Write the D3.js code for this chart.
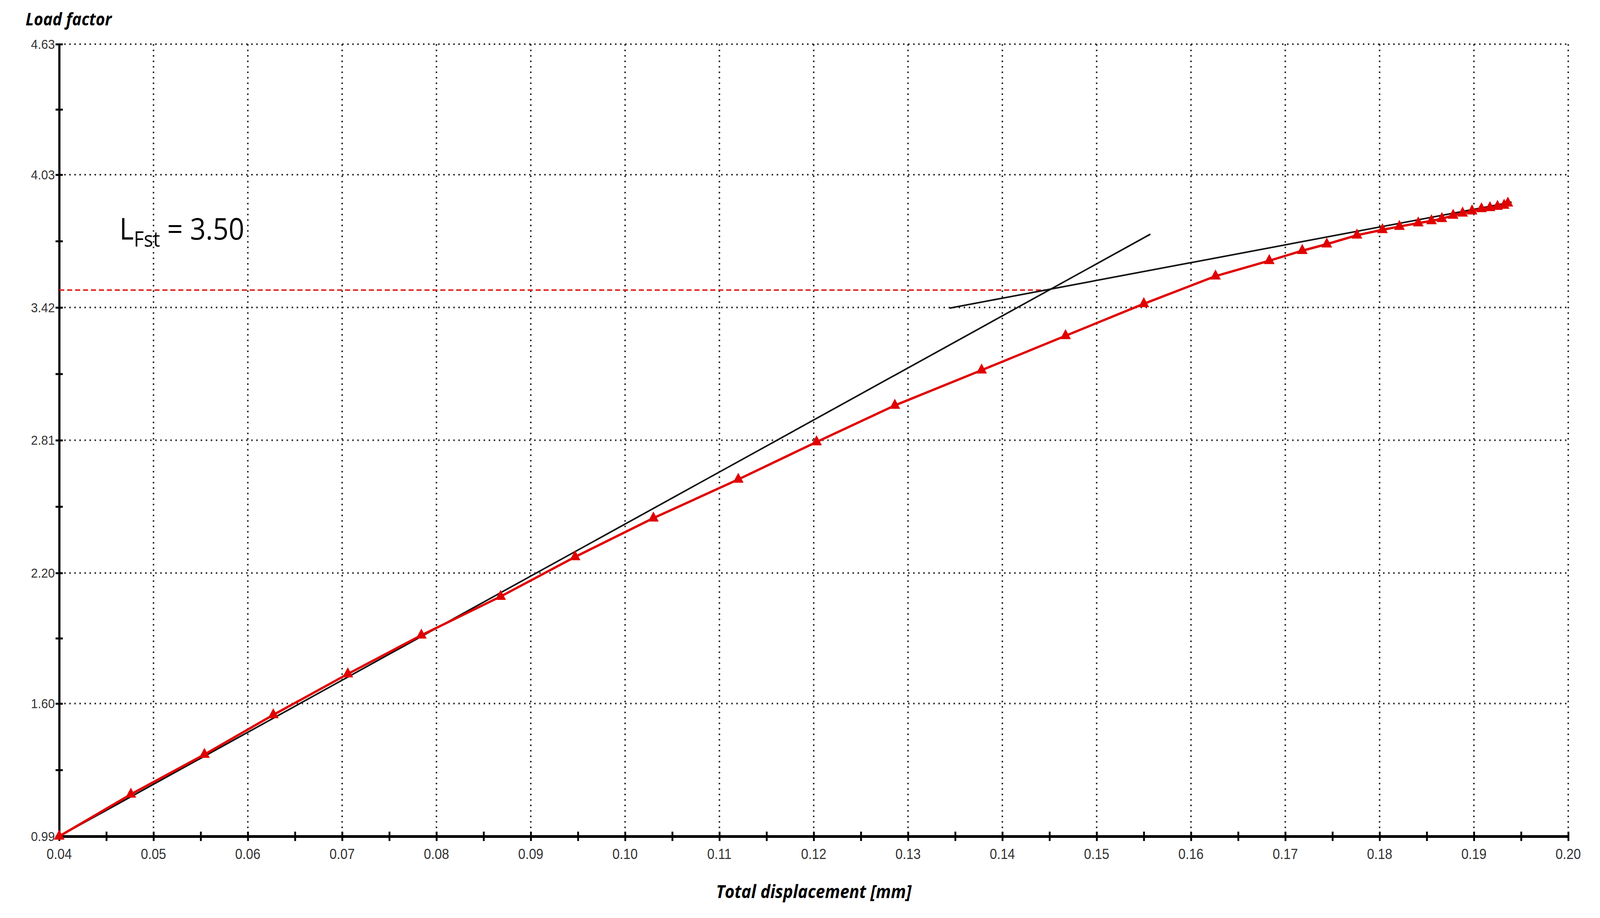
<!DOCTYPE html>
<html><head><meta charset="utf-8">
<script src="https://cdn.jsdelivr.net/npm/d3@7"></script>
<style>html,body{margin:0;padding:0;background:#fff;overflow:hidden}svg{display:block;width:100vw;height:100vh}</style></head>
<body><svg id="c" viewBox="0 0 4433 2349" preserveAspectRatio="none"></svg>
<script>
const xTicks = [0.04,0.05,0.06,0.07,0.08,0.09,0.10,0.11,0.12,0.13,0.14,0.15,0.16,0.17,0.18,0.19,0.20];
const yTicks = [0.99,1.60,2.20,2.81,3.42,4.03,4.63];
const dispX = [0.040,0.0476,0.0554,0.0627,0.0706,0.0784,0.0868,0.0947,0.1030,0.1120,0.1203,0.1286,0.1378,0.1467,0.1550,0.1626,0.1683,0.1718,0.1744,0.1776,0.1803,0.1821,0.1841,0.1855,0.1866,0.1878,0.1888,0.1898,0.1908,0.1917,0.1925,0.1932,0.1936];
const loadY = [0.99,1.183,1.366,1.548,1.736,1.914,2.092,2.274,2.452,2.630,2.802,2.970,3.132,3.290,3.437,3.564,3.635,3.681,3.711,3.752,3.777,3.792,3.808,3.818,3.828,3.843,3.853,3.863,3.873,3.878,3.884,3.889,3.899];
const tangent1 = [[0.040,0.99],[0.1557,3.757]];
const tangent2 = [[0.1344,3.417],[0.1940,3.904]];
const lfst = 3.50, lfstEndX = 0.1452;

const svg = d3.select("#c");
const L=164, R=4345, T=113, B=2140;
const x = d3.scaleLinear().domain([0.04,0.20]).range([L,R]);
const y = d3.scaleLinear().domain([0.99,4.63]).range([B,T]);
const g = svg.append("g");
g.selectAll(".vg").data(xTicks.slice(1)).join("line")
 .attr("x1",d=>x(d)).attr("x2",d=>x(d)).attr("y1",T).attr("y2",B)
 .attr("stroke","#222").attr("stroke-width",4).attr("stroke-dasharray","4,10");
g.selectAll(".hg").data(yTicks.slice(1)).join("line")
 .attr("y1",d=>y(d)).attr("y2",d=>y(d)).attr("x1",L).attr("x2",R)
 .attr("stroke","#222").attr("stroke-width",4).attr("stroke-dasharray","4,10");
const xa = d3.axisBottom(x).tickValues(d3.range(0.04,0.2001,0.005)).tickSize(0).tickFormat("");
const axX = svg.append("g").attr("transform",`translate(0,${B})`).call(xa);
axX.select(".domain").attr("stroke","#000").attr("stroke-width",7);
axX.selectAll(".tick line").attr("y1",-12).attr("y2",12).attr("stroke","#000").attr("stroke-width",5);
svg.append("g").selectAll("text").data(xTicks).join("text")
 .attr("x",d=>x(d)).attr("y",B+58).attr("text-anchor","middle")
 .attr("font-family","Liberation Sans Narrow, Liberation Sans").attr("font-size",36).attr("fill","#333")
 .text(d=>d.toFixed(2));
const yMinor = [];
for(let i=0;i<yTicks.length;i++){yMinor.push(yTicks[i]); if(i<yTicks.length-1) yMinor.push((yTicks[i]+yTicks[i+1])/2);}
const ya = d3.axisLeft(y).tickValues(yMinor).tickSize(0).tickFormat("");
const axY = svg.append("g").attr("transform",`translate(${L},0)`).call(ya);
axY.select(".domain").attr("stroke","#000").attr("stroke-width",6);
axY.selectAll(".tick line").attr("x1",-10).attr("x2",10).attr("stroke","#000").attr("stroke-width",5);
svg.append("g").selectAll("text").data(yTicks).join("text")
 .attr("x",L-12).attr("y",d=>y(d)+12).attr("text-anchor","end")
 .attr("font-family","Liberation Sans Narrow, Liberation Sans").attr("font-size",34).attr("fill","#333")
 .text(d=>d.toFixed(2));
svg.append("line").attr("x1",x(0.04)).attr("x2",x(lfstEndX)).attr("y1",y(lfst)).attr("y2",y(lfst))
 .attr("stroke","#e02020").attr("stroke-width",4).attr("stroke-dasharray","14,8");
const ln = d3.line().x(d=>x(d[0])).y(d=>y(d[1]));
[tangent1,tangent2].forEach(t=>svg.append("path").attr("d",ln(t)).attr("fill","none").attr("stroke","#111").attr("stroke-width",4));
const pts = dispX.map((d,i)=>[d,loadY[i]]);
svg.append("path").attr("d",ln(pts)).attr("fill","none").attr("stroke","#e00000").attr("stroke-width",6);
svg.append("g").selectAll("path").data(pts).join("path")
 .attr("transform",d=>`translate(${x(d[0])},${y(d[1])})`)
 .attr("d",d3.symbol(d3.symbolTriangle,380)).attr("fill","#e00000");
svg.append("text").attr("x",71).attr("y",65).attr("font-family","Open Sans").attr("font-weight","bold").attr("font-style","italic").attr("font-size",44).text("Load factor");
svg.append("text").attr("x",(L+R)/2).attr("y",2298).attr("text-anchor","middle").attr("font-family","Open Sans").attr("font-weight","bold").attr("font-style","italic").attr("font-size",46).text("Total displacement [mm]");
const ann = svg.append("text").attr("x",331).attr("y",613).attr("font-family","Open Sans").attr("font-size",76);
ann.append("tspan").text("L");
ann.append("tspan").attr("font-size",54).attr("dy",18).text("Fst");
ann.append("tspan").attr("dy",-18).text(" = 3.50");
</script></body></html>
